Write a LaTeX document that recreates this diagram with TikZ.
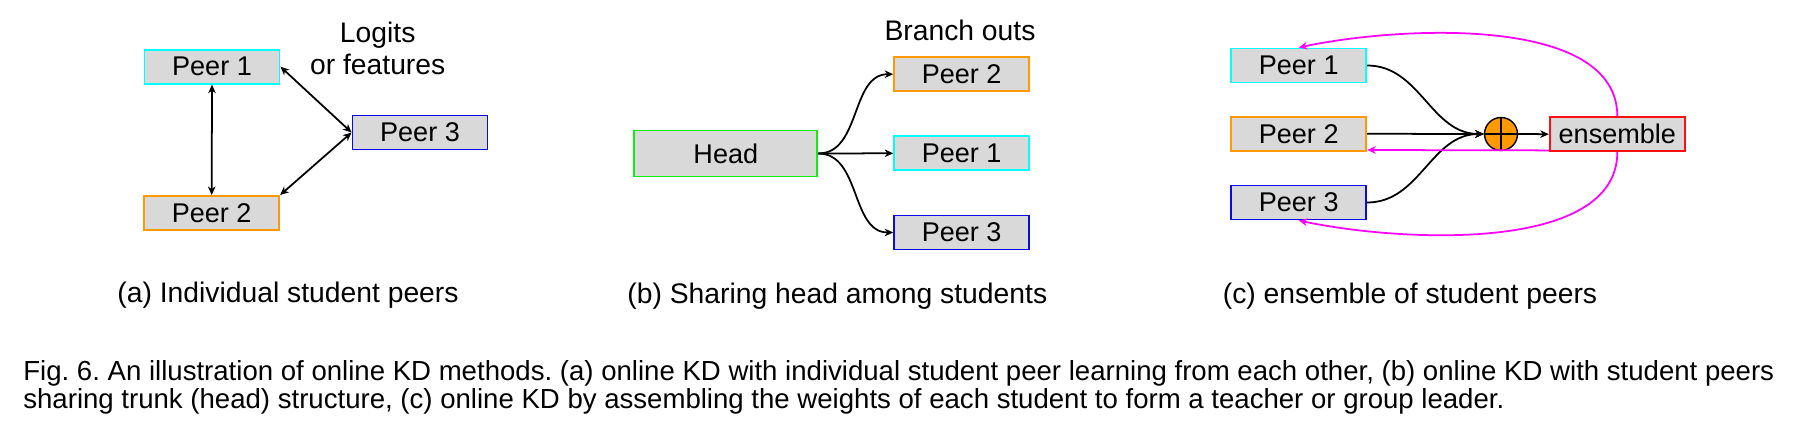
\documentclass[tikz,border=0pt]{standalone}
\usepackage{fontspec}
\setmainfont{Liberation Sans}
\usepackage{tikz}
\usetikzlibrary{arrows.meta}
\frenchspacing

\definecolor{boxgray}{HTML}{D9D9D9}
\definecolor{peercyan}{HTML}{00FFFF}
\definecolor{peerorange}{HTML}{FF9900}
\definecolor{peerblue}{HTML}{0A0AE6}
\definecolor{headgreen}{HTML}{11EE11}
\definecolor{ensred}{HTML}{FF1010}
\definecolor{backpink}{HTML}{FF00FF}

\begin{document}
\begin{tikzpicture}[x=0.02cm,y=-0.02cm,
    font=\fontsize{15.4}{18.2}\selectfont,
    peer/.style={draw,line width=1.1pt,fill=boxgray,minimum width=2.7cm,
                 minimum height=0.68cm,inner sep=0pt},
    label_text/.style={inner sep=0pt,anchor=base,font=\fontsize{16.1}{18.2}\selectfont}]
\useasboundingbox (0,0) rectangle (1794,438);

% (a) individual peers
\begin{scope}[every node/.style={peer}]
    \node [draw=peercyan] (a1) at (212.0, 66.7) {Peer 1};
    \node [draw=peerorange] (a2) at (211.7, 213.0) {Peer 2};
    \node [draw=peerblue] (a3) at (420.0, 132.5) {Peer 3};
\end{scope}
\node [align=center,inner sep=0pt,font=\fontsize{16.1}{18.2}\selectfont] (alogits) at (377.7, 48.0) {Logits\\or features};

% (b) shared head
\begin{scope}[every node/.style={peer}]
    \node [draw=headgreen,minimum width=3.66cm,minimum height=0.92cm] (head) at (725.8, 153.5) {Head};
    \node [draw=peerorange] (b2) at (961.7, 74.2) {Peer 2};
    \node [draw=peercyan] (b1) at (961.7, 153.3) {Peer 1};
    \node [draw=peerblue] (b3) at (961.7, 232.5) {Peer 3};
\end{scope}
\node [label_text] (bbranch) at (960.0, 40.7) {Branch outs};

% (c) ensemble
\begin{scope}[every node/.style={peer}]
    \node [draw=peercyan] (c1) at (1298.7, 65.5) {Peer 1};
    \node [draw=peerorange] (c2) at (1298.7, 133.8) {Peer 2};
    \node [draw=peerblue] (c3) at (1298.7, 202.5) {Peer 3};
    \node [draw=ensred] (ens) at (1617.3, 134.2) {ensemble};
\end{scope}
\node [circle,draw,line width=0.8pt,fill=peerorange,minimum size=0.66cm,inner sep=0pt,
       path picture={\draw [line width=1.2pt]
         (path picture bounding box.north) -- (path picture bounding box.south)
         (path picture bounding box.west) -- (path picture bounding box.east);}]
      (plus) at (1501.0, 134.0) {};

\begin{scope}[>={Stealth[length=1.7mm,width=1.5mm,inset=0.5mm]},
              black_edge/.style={draw=black,line width=1pt},
              pink_edge/.style={draw=backpink,line width=1pt}]
    \path [<->] (a1.south) edge [black_edge] (a2.north);
    \path [<->] (a1.east) edge [black_edge] (a3.west);
    \path [<->] (a3.west) edge [black_edge] (a2.north east);

    \path [->] (head.east) edge [black_edge,out=0,in=180] (b2.west);
    \path [->] (head.east) edge [black_edge] (b1.west);
    \path [->] (head.east) edge [black_edge,out=0,in=180] (b3.west);

    \path [->] (c1.east) edge [black_edge,out=0,in=180] (plus.west);
    \path [->] (c2.east) edge [black_edge] (plus.west);
    \path [->] (c3.east) edge [black_edge,out=0,in=180] (plus.west);
    \path [->] (plus.east) edge [black_edge] (ens.west);

    \path [->] (ens.north) edge [pink_edge,out=90,in=12,looseness=0.8] (c1.north);
    \path [->] ([yshift=1pt]ens.south west) edge [pink_edge] ([yshift=1pt]c2.south east);
    \path [->] (ens.south) edge [pink_edge,out=-90,in=-12,looseness=0.8] (c3.south);
\end{scope}

% sub captions
\node [label_text] (capa) at (288.0, 303.0) {(a) Individual student peers};
\node [label_text] (capb) at (837.3, 304.0) {(b) Sharing head among students};
\node [label_text] (capc) at (1410.0, 304.0) {(c) ensemble of student peers};

% figure caption
\begin{scope}[every node/.style={inner sep=0pt,anchor=base west,font=\fontsize{15.7}{16}\selectfont}]
    \node (fig1) at (23.0, 381.0) {Fig. 6. An illustration of online KD methods. (a) online KD with individual student peer learning from each other, (b) online KD with student peers};
    \node (fig2) at (23.0, 408.3) {sharing trunk (head) structure, (c) online KD by assembling the weights of each student to form a teacher or group leader.};
\end{scope}
\end{tikzpicture}
\end{document}
